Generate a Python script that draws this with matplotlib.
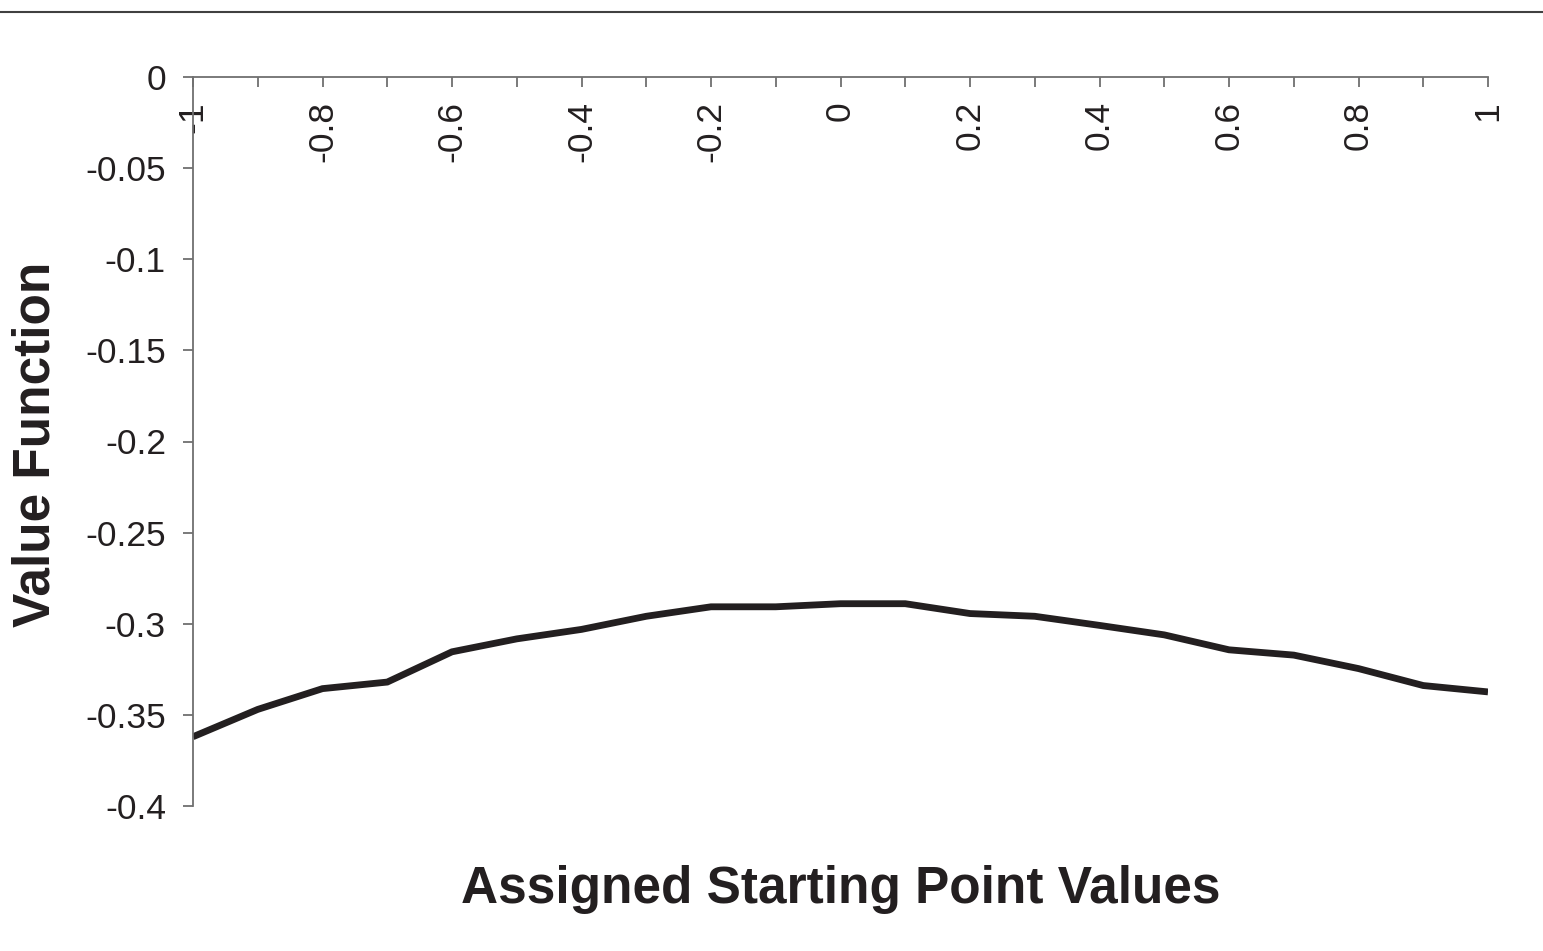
import matplotlib
matplotlib.use("Agg")
import matplotlib.pyplot as plt
from matplotlib.lines import Line2D
import numpy as np

# Data
x_values = [-1.0, -0.9, -0.8, -0.7, -0.6, -0.5, -0.4, -0.3, -0.2, -0.1, 0.0,
            0.1, 0.2, 0.3, 0.4, 0.5, 0.6, 0.7, 0.8, 0.9, 1.0]
value_function = [-0.362, -0.347, -0.3356, -0.332, -0.3154, -0.3083, -0.3031,
                  -0.2959, -0.2907, -0.2907, -0.289, -0.289, -0.2944, -0.2959,
                  -0.3009, -0.3061, -0.3143, -0.3172, -0.3246, -0.3339, -0.3374]
x_tick_labels = ["-1", "", "-0.8", "", "-0.6", "", "-0.4", "", "-0.2", "", "0",
                 "", "0.2", "", "0.4", "", "0.6", "", "0.8", "", "1"]
y_ticks = [0, -0.05, -0.1, -0.15, -0.2, -0.25, -0.3, -0.35, -0.4]
y_tick_labels = ["0", "-0.05", "-0.1", "-0.15", "-0.2", "-0.25", "-0.3", "-0.35", "-0.4"]

plt.rcParams['font.family'] = ['Liberation Sans', 'DejaVu Sans']

W, H = 1543, 951
fig = plt.figure(figsize=(W / 100, H / 100), dpi=100)
left, right, top, bottom = 193, 1488, 77, 806
ax = fig.add_axes([left / W, 1 - bottom / H, (right - left) / W, (bottom - top) / H])

text_color = '#231f20'
axis_color = '#707070'

ax.plot(x_values, value_function, color='#231f20', linewidth=4.9,
        solid_joinstyle='miter', solid_capstyle='butt')

ax.set_xlim(-1, 1)
ax.set_ylim(-0.4, 0)

# x axis placed at y = 0 (top), labels below it
ax.spines['bottom'].set_position(('data', 0))
ax.spines['top'].set_visible(False)
ax.spines['right'].set_visible(False)
for s in ('bottom', 'left'):
    ax.spines[s].set_color(axis_color)
    ax.spines[s].set_linewidth(1.3)

ax.set_xticks(x_values)
ax.set_xticklabels(x_tick_labels, rotation=90)
ax.set_yticks(y_ticks)
ax.set_yticklabels(y_tick_labels)

ax.tick_params(axis='x', direction='out', length=7.5, width=1.3, color=axis_color,
               labelsize=25.5, labelcolor=text_color, pad=10)
ax.tick_params(axis='y', direction='out', length=7.5, width=1.3, color=axis_color,
               labelsize=25.5, labelcolor=text_color, pad=12)

ax.patch.set_visible(False)

# Axis titles
fig.text((left + right) / 2 / W, 1 - 889 / H, "Assigned Starting Point Values",
         ha='center', va='center', fontsize=37, fontweight='bold', color=text_color)
fig.text(36 / W, 1 - 444 / H, "Value Function", rotation=90,
         ha='center', va='center', fontsize=37, fontweight='bold', color=text_color)

# Top border line
fig.add_artist(Line2D([0, 1], [1 - 12 / H, 1 - 12 / H], transform=fig.transFigure,
                      color='#404040', linewidth=1.5))

fig.savefig("out.png", dpi=100)
